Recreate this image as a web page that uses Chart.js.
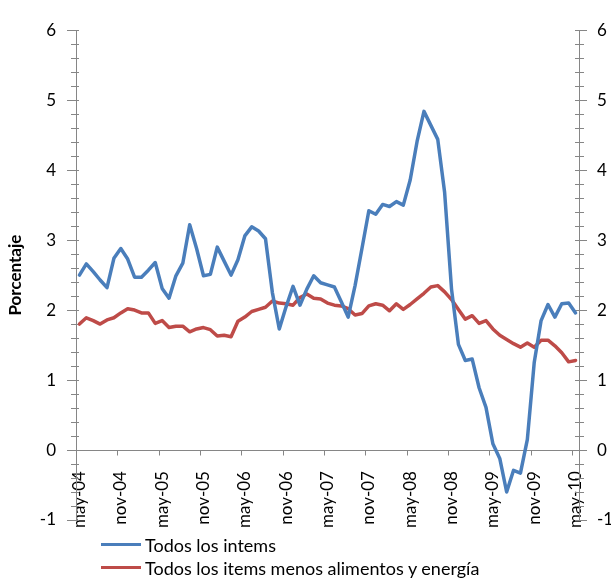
<!DOCTYPE html>
<html>
<head>
<meta charset="utf-8">
<script src="https://cdn.jsdelivr.net/npm/chart.js@4"></script>
<style>
body{margin:0;background:#fff}
#wrap{position:relative;width:611px;height:581px}
#legend{position:absolute;left:101px;top:533px;font:18px Lato;color:#000}
.item{display:flex;align-items:center;height:23px;white-space:nowrap}
.item span{display:inline-block;width:40px;height:3px;margin-right:4px}
</style>
</head>
<body>
<div id="wrap">
<canvas id="myChart" width="611" height="581"></canvas>
<div id="legend"></div>
</div>
<script>
// monthly categories, may-04 .. may-10
const categories = [
  "may-04","jun-04","jul-04","ago-04","sep-04","oct-04","nov-04","dic-04",
  "ene-05","feb-05","mar-05","abr-05","may-05","jun-05","jul-05","ago-05","sep-05","oct-05","nov-05","dic-05",
  "ene-06","feb-06","mar-06","abr-06","may-06","jun-06","jul-06","ago-06","sep-06","oct-06","nov-06","dic-06",
  "ene-07","feb-07","mar-07","abr-07","may-07","jun-07","jul-07","ago-07","sep-07","oct-07","nov-07","dic-07",
  "ene-08","feb-08","mar-08","abr-08","may-08","jun-08","jul-08","ago-08","sep-08","oct-08","nov-08","dic-08",
  "ene-09","feb-09","mar-09","abr-09","may-09","jun-09","jul-09","ago-09","sep-09","oct-09","nov-09","dic-09",
  "ene-10","feb-10","mar-10","abr-10","may-10"
];

const todosItems = [
  2.50, 2.66, 2.55, 2.43, 2.32, 2.74, 2.88, 2.73, 2.47, 2.47, 2.57, 2.68,
  2.31, 2.17, 2.49, 2.67, 3.22, 2.88, 2.49, 2.51, 2.90, 2.70, 2.50, 2.72,
  3.06, 3.19, 3.13, 3.02, 2.25, 1.73, 2.05, 2.34, 2.07, 2.30, 2.49, 2.39,
  2.36, 2.33, 2.12, 1.90, 2.35, 2.88, 3.42, 3.37, 3.51, 3.48, 3.55, 3.50,
  3.86, 4.41, 4.84, 4.64, 4.44, 3.68, 2.30, 1.51, 1.28, 1.30, 0.89, 0.61,
  0.09, -0.12, -0.60, -0.29, -0.33, 0.15, 1.25, 1.85, 2.08, 1.90, 2.09, 2.10,
  1.96
];

const sinAlimEnergia = [
  1.80, 1.89, 1.85, 1.80, 1.86, 1.89, 1.96, 2.02, 2.00, 1.96, 1.96, 1.81,
  1.85, 1.75, 1.77, 1.77, 1.69, 1.73, 1.75, 1.72, 1.63, 1.64, 1.62, 1.84,
  1.90, 1.98, 2.01, 2.04, 2.13, 2.10, 2.09, 2.07, 2.18, 2.23, 2.17, 2.16,
  2.10, 2.07, 2.06, 2.02, 1.93, 1.95, 2.06, 2.09, 2.07, 1.99, 2.09, 2.01,
  2.08, 2.16, 2.24, 2.33, 2.35, 2.26, 2.15, 2.01, 1.87, 1.92, 1.81, 1.85,
  1.73, 1.64, 1.58, 1.52, 1.47, 1.53, 1.47, 1.57, 1.57, 1.49, 1.39, 1.26,
  1.28
];

const seriesNames = ["Todos los intems", "Todos los items menos alimentos y energía"];
const seriesColors = ["#4a7ebb", "#be4b48"];
const axisColor = "#868686";

// minor/major tick marks on both value axes and on the category axis (category boundaries)
const tickMarks = {
  id: 'tickMarks',
  beforeDatasetsDraw(chart) {
    const c = chart.ctx, y = chart.scales.y, y2 = chart.scales.y2, x = chart.scales.x;
    c.save();
    c.strokeStyle = axisColor;
    c.lineWidth = 1;
    c.beginPath();
    for (let k = -5; k <= 30; k++) {
      const major = k % 5 === 0;
      const py = Math.round(y.getPixelForValue(k / 5)) + 0.5;
      c.moveTo(y.right - (major ? 9 : 5), py); c.lineTo(y.right + 3, py);
      c.moveTo(y2.left - 4, py); c.lineTo(y2.left + (major ? 8 : 5), py);
    }
    const base = Math.round(y.getPixelForValue(0)) + 0.5;
    const half = (x.getPixelForValue(1) - x.getPixelForValue(0)) / 2;
    categories.forEach((m, i) => {
      if (i % 6) return;
      const px = Math.round(x.getPixelForValue(i) - half) + 0.5;
      c.moveTo(px, base); c.lineTo(px, base + 5);
    });
    c.stroke();
    c.restore();
  }
};

const tickFont = {family: 'Lato', size: 17};

const ctx = document.getElementById('myChart').getContext('2d');
const myChart = new Chart(ctx, {
  type: 'line',
  data: {
    labels: categories,
    datasets: [
      {label: seriesNames[0], data: todosItems, borderColor: seriesColors[0], borderWidth: 3.5},
      {label: seriesNames[1], data: sinAlimEnergia, borderColor: seriesColors[1], borderWidth: 3.5}
    ]
  },
  options: {
    responsive: false,
    animation: false,
    elements: {
      point: {radius: 0},
      line: {tension: 0, borderJoinStyle: 'round', borderCapStyle: 'round', fill: false}
    },
    layout: {padding: {top: 12, bottom: 61, left: 0, right: 0}},
    plugins: {legend: {display: false}, tooltip: {enabled: false}},
    scales: {
      x: {
        position: {y: 0},
        offset: true,
        afterFit: s => { s.paddingLeft = 0; s.paddingRight = 0; },
        grid: {display: false, drawTicks: false, offset: true},
        border: {display: true, color: axisColor, width: 1},
        ticks: {
          autoSkip: false, maxRotation: 90, minRotation: 90, padding: 21,
          color: '#000', font: tickFont,
          callback: (v, i) => i % 6 === 0 ? categories[i] : ''
        }
      },
      y: {
        position: 'left',
        min: -1, max: 6,
        afterFit: s => { s.width = 76; },
        grid: {display: false, drawTicks: false},
        border: {display: true, color: axisColor, width: 1},
        ticks: {stepSize: 1, padding: 20, color: '#000', font: tickFont},
        title: {display: true, text: 'Porcentaje', color: '#000',
                font: {family: 'Lato', size: 17, weight: 'bold'}, padding: {top: 5, bottom: 0}}
      },
      y2: {
        position: 'right',
        min: -1, max: 6,
        afterFit: s => { s.width = 32; },
        grid: {display: false, drawTicks: false},
        border: {display: true, color: axisColor, width: 1},
        ticks: {stepSize: 1, padding: 18, color: '#000', font: tickFont}
      }
    }
  },
  plugins: [tickMarks]
});

const legend = document.getElementById('legend');
myChart.data.datasets.forEach(ds => {
  const d = document.createElement('div');
  d.className = 'item';
  const sw = document.createElement('span');
  sw.style.background = ds.borderColor;
  d.appendChild(sw);
  d.appendChild(document.createTextNode(ds.label));
  legend.appendChild(d);
});
</script>
</body>
</html>
